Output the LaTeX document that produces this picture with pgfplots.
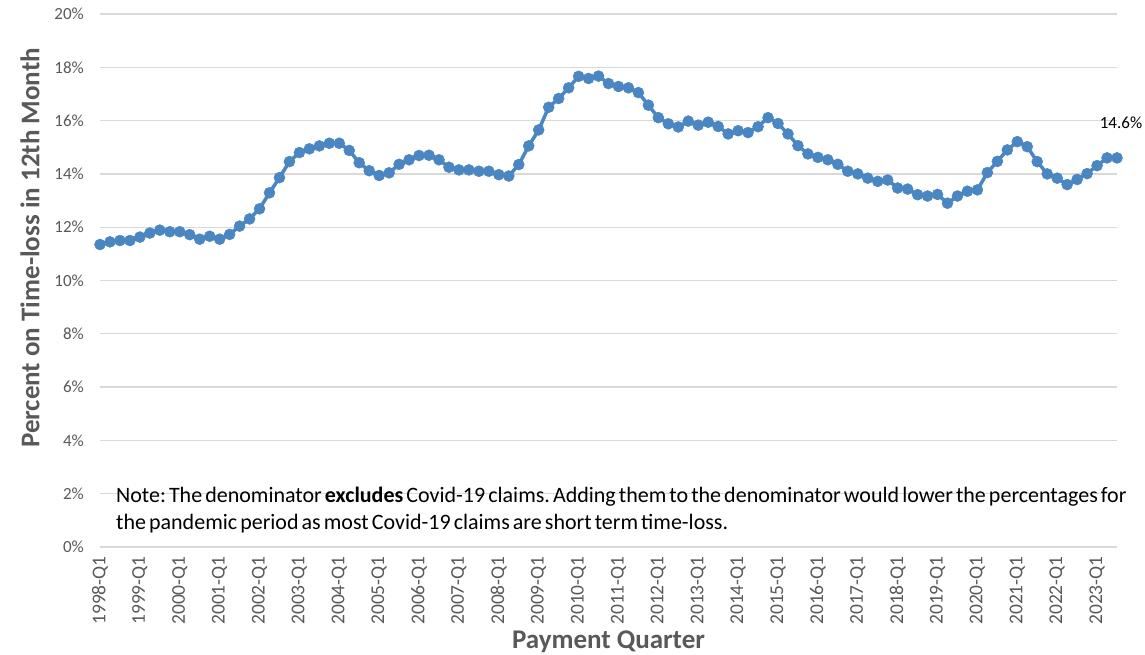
\documentclass[border=0pt]{standalone}
\usepackage{fontspec}
\setmainfont{Carlito}
\usepackage{pgfplots}
\usepackage{pgfplotstable}
\pgfplotsset{compat=1.18}

\definecolor{series}{RGB}{74,134,193}
\definecolor{gridgray}{RGB}{217,217,217}
\definecolor{labelgray}{RGB}{89,89,89}

% Share of claims on time-loss in the 12th month, by payment quarter
\pgfplotstableread{
year q pct
1998 1 11.35
1998 2 11.45
1998 3 11.50
1998 4 11.50
1999 1 11.63
1999 2 11.78
1999 3 11.89
1999 4 11.83
2000 1 11.83
2000 2 11.72
2000 3 11.55
2000 4 11.66
2001 1 11.55
2001 2 11.73
2001 3 12.04
2001 4 12.31
2002 1 12.69
2002 2 13.29
2002 3 13.86
2002 4 14.46
2003 1 14.80
2003 2 14.94
2003 3 15.05
2003 4 15.15
2004 1 15.15
2004 2 14.88
2004 3 14.42
2004 4 14.12
2005 1 13.94
2005 2 14.04
2005 3 14.36
2005 4 14.53
2006 1 14.69
2006 2 14.70
2006 3 14.53
2006 4 14.25
2007 1 14.15
2007 2 14.15
2007 3 14.10
2007 4 14.10
2008 1 13.97
2008 2 13.92
2008 3 14.35
2008 4 15.05
2009 1 15.65
2009 2 16.50
2009 3 16.83
2009 4 17.23
2010 1 17.66
2010 2 17.58
2010 3 17.67
2010 4 17.39
2011 1 17.28
2011 2 17.23
2011 3 17.05
2011 4 16.58
2012 1 16.11
2012 2 15.88
2012 3 15.76
2012 4 15.98
2013 1 15.83
2013 2 15.94
2013 3 15.78
2013 4 15.50
2014 1 15.62
2014 2 15.55
2014 3 15.77
2014 4 16.11
2015 1 15.89
2015 2 15.50
2015 3 15.06
2015 4 14.75
2016 1 14.62
2016 2 14.53
2016 3 14.36
2016 4 14.10
2017 1 14.00
2017 2 13.84
2017 3 13.72
2017 4 13.77
2018 1 13.47
2018 2 13.43
2018 3 13.22
2018 4 13.17
2019 1 13.23
2019 2 12.90
2019 3 13.17
2019 4 13.35
2020 1 13.40
2020 2 14.05
2020 3 14.47
2020 4 14.90
2021 1 15.21
2021 2 15.02
2021 3 14.46
2021 4 14.00
2022 1 13.84
2022 2 13.60
2022 3 13.79
2022 4 14.01
2023 1 14.31
2023 2 14.60
2023 3 14.60
}\timeloss

\newcommand{\tightspaces}{\frenchspacing\spaceskip=0.14em\relax}

\begin{document}
\begin{tikzpicture}[x=1pt,y=1pt]
\useasboundingbox (-100,-108) rectangle (1045,547);
\begin{axis}[
  at={(0,0)}, anchor=south west,
  scale only axis,
  width=1017pt, height=533pt,
  xmin=0, xmax=102,
  ymin=0, ymax=20,
  axis line style={draw=none},
  major tick length=0pt,
  ymajorgrids=true,
  grid style={gridgray, line width=1.3pt},
  ytick={0,2,...,20},
  yticklabels={0\%,2\%,4\%,6\%,8\%,10\%,12\%,14\%,16\%,18\%,20\%},
  xtick={0,4,...,100},
  xticklabels={1998-Q1,1999-Q1,2000-Q1,2001-Q1,2002-Q1,2003-Q1,2004-Q1,2005-Q1,2006-Q1,2007-Q1,2008-Q1,2009-Q1,2010-Q1,2011-Q1,2012-Q1,2013-Q1,2014-Q1,2015-Q1,2016-Q1,2017-Q1,2018-Q1,2019-Q1,2020-Q1,2021-Q1,2022-Q1,2023-Q1},
  tick label style={text=labelgray, inner sep=0pt},
  yticklabel style={font=\fontsize{17}{20}\selectfont},
  xticklabel style={font=\fontsize{19.5}{22}\selectfont, rotate=90, anchor=east},
  xticklabel shift=9pt,
  yticklabel shift=16pt,
  xlabel={Payment Quarter},
  ylabel={Percent on Time-loss in 12th Month},
  label style={font=\fontsize{27}{31}\selectfont\bfseries, text=labelgray},
  xlabel style={at={(axis description cs:0.5,-0.178)}, anchor=center},
  ylabel style={at={(axis description cs:-0.0688,0.561)}, anchor=center},
  clip=false,
]
\addplot[series, line width=3.5pt, mark=*, mark size=5.5pt,
  mark options={solid, fill=series, draw=series, line width=0.5pt}]
  table[x expr=\coordindex, y=pct] {\timeloss};
% value label on the latest quarter
\addplot[draw=none, mark=none, nodes near coords={14.6\%},
  every node near coord/.append style={font=\fontsize{17}{20}\selectfont, text=black,
    anchor=base, yshift=29pt, xshift=4pt}]
  coordinates {(102,14.6)};
\node[anchor=base west, align=left, inner sep=0pt,
  font=\fontsize{22}{27}\selectfont]
  at (axis cs:1.6,0.675)
  {\tightspaces Note: The denominator \textbf{excludes} Covid-19 claims. Adding them to the denominator would lower the percentages for\\
   \tightspaces the pandemic period as most Covid-19 claims are short term time-loss.};
\end{axis}
\end{tikzpicture}
\end{document}
